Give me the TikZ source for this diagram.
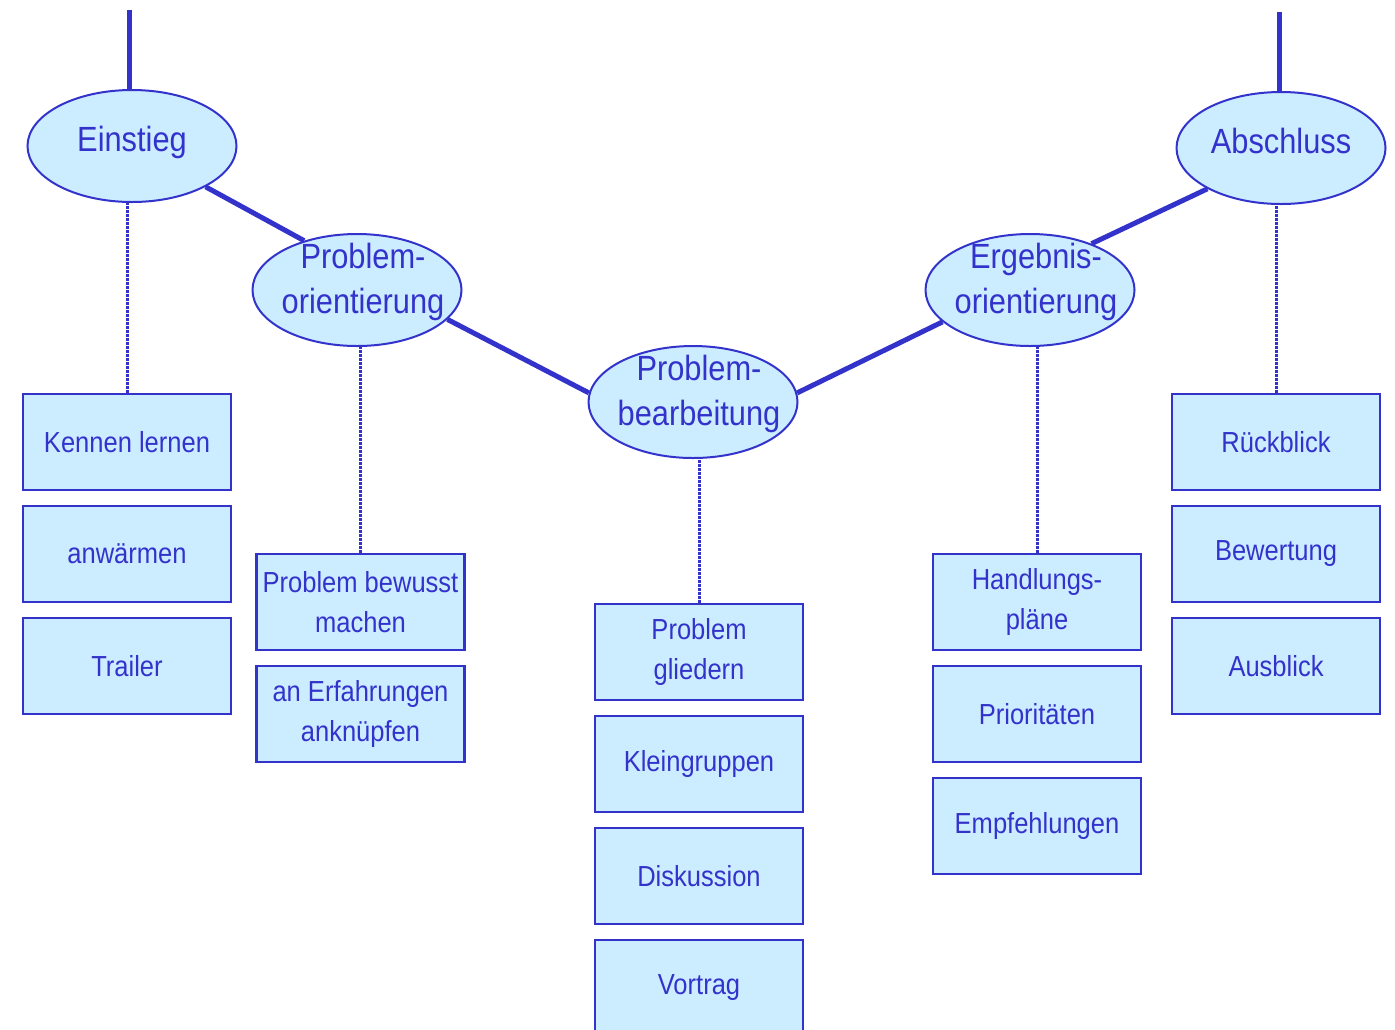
\documentclass[tikz,border=0pt]{standalone}
\usepackage{fontspec}
\setmainfont{Liberation Sans}[FakeStretch=0.88]
\usetikzlibrary{shapes.geometric,positioning}

\definecolor{phaseblue}{RGB}{51,51,204}
\definecolor{phasefill}{RGB}{204,236,255}

% text of an oval, lifted a little above its centre
\newcommand{\phaselabel}[1]{\raisebox{2pt}[\height][\depth]{\begin{tabular}{@{}c@{}}#1\end{tabular}}}
\newcommand{\phasesplit}[2]{\raisebox{4pt}[\height][\depth]{\hspace{6pt}\begin{tabular}{@{}c@{}}#1\\#2\end{tabular}}}

\begin{document}
\begin{tikzpicture}[x=0.5pt, y=-0.5pt,
    phase/.style={ellipse, draw=phaseblue, line width=1pt, fill=phasefill, text=phaseblue,
        minimum width=104.5pt, minimum height=56pt, inner sep=-9pt,
        font=\fontsize{17.5}{22.5}\selectfont},
    task/.style={rectangle, draw=phaseblue, line width=1.4pt, fill=phasefill, text=phaseblue,
        minimum width=104pt, minimum height=48pt, inner sep=0pt, align=center,
        font=\fontsize{14.5}{20}\selectfont},
    flow/.style={phaseblue, line width=2.5pt},
    link/.style={phaseblue, line width=1.5pt, dash pattern=on 1.1pt off 0.9pt},
    node distance=6.6pt]
    \useasboundingbox (0,0) rectangle (1395,1029);
    \clip (0,0) rectangle (1395,1029);

    % Phases
    \node[phase] (ein) at (132,146) {\phaselabel{Einstieg}};
    \node[phase] (pori) at (357,290) {\phasesplit{Problem-}{orientierung}};
    \node[phase] (pbea) at (693,402) {\phasesplit{Problem-}{bearbeitung}};
    \node[phase] (eori) at (1030,290) {\phasesplit{Ergebnis-}{orientierung}};
    \node[phase] (absch) at (1281,148) {\phaselabel{Abschluss}};

    % Lines coming in from above
    \coordinate (einTop) at (129,10);
    \coordinate (abTop) at (1279,12);
    \draw[flow] (einTop) -- (einTop |- ein.north);
    \draw[flow] (abTop) -- (abTop |- absch.north);

    % Path through the phases
    \draw[flow] (ein.-29) -- (pori.137);
    \draw[flow] (pori.-18) -- (pbea.175);
    \draw[flow] (pbea.5) -- (eori.-160);
    \draw[flow] (eori.37) -- (absch.-151);

    % Einstieg
    \node[task] (kenn) at (127,442) {Kennen lernen};
    \node[task, below=of kenn] (warm) {anwärmen};
    \node[task, below=of warm] (trail) {Trailer};

    % Problemorientierung
    \node[task] (aware) at (360.5,602) {Problem bewusst\\machen};
    \node[task, below=of aware] (exper) {an Erfahrungen\\anknüpfen};

    % Problembearbeitung
    \node[task] (struct) at (699,652) {Problem\\gliedern};
    \node[task, below=of struct] (groups) {Kleingruppen};
    \node[task, below=of groups] (discuss) {Diskussion};
    \node[task, below=of discuss] (talk) {Vortrag};

    % Ergebnisorientierung
    \node[task] (plans) at (1037,602) {Handlungs-\\pläne};
    \node[task, below=of plans] (prio) {Prioritäten};
    \node[task, below=of prio] (advice) {Empfehlungen};

    % Abschluss
    \node[task] (review) at (1276,442) {Rückblick};
    \node[task, below=of review] (rating) {Bewertung};
    \node[task, below=of rating] (outlook) {Ausblick};

    % Dotted links from phases to their tasks
    \draw[link] (kenn.north) -- (kenn.north |- ein.south);
    \draw[link] (aware.north) -- (aware.north |- pori.south);
    \draw[link] (struct.north) -- (struct.north |- pbea.south);
    \draw[link] (plans.north) -- (plans.north |- eori.south);
    \draw[link] (review.north) -- (review.north |- absch.south);
\end{tikzpicture}
\end{document}
